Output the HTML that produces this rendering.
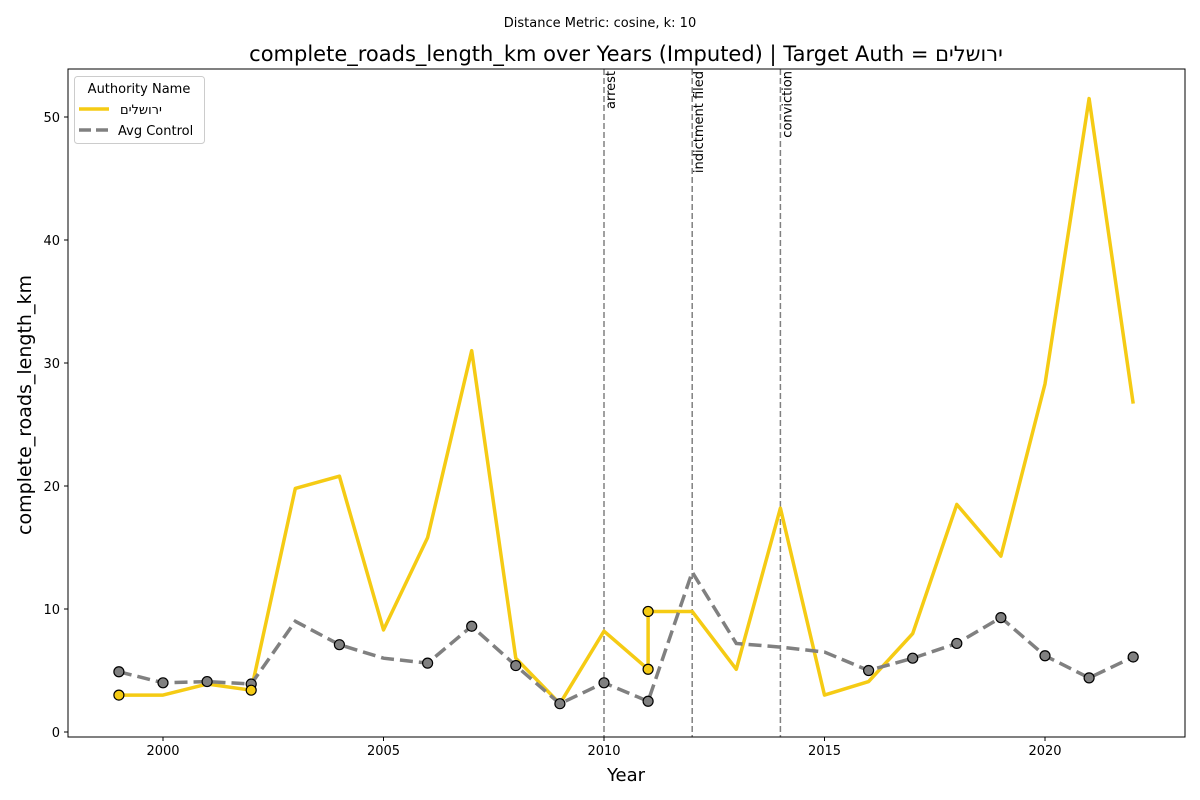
<!DOCTYPE html>
<html><head><meta charset="utf-8"><style>
body{margin:0;background:#fff;}
svg{display:block;font-family:"DejaVu Sans","Liberation Sans",sans-serif;}
</style></head><body>
<svg id="chart" width="1200" height="800">
<text x="600" y="27" font-size="13" text-anchor="middle">Distance Metric: cosine, k: 10</text>
<text x="626" y="61" font-size="21" text-anchor="middle">complete_roads_length_km over Years (Imputed) | Target Auth = &#x202D;םילשורי&#x202C;</text>
<text x="626" y="781" font-size="18" text-anchor="middle">Year</text>
<text transform="translate(31,405) rotate(-90)" font-size="19" text-anchor="middle">complete_roads_length_km</text>
<g id="axes"></g>
<g id="marks"></g>
<rect x="68" y="69" width="1117" height="668" fill="none" stroke="#000" stroke-width="1"/>
<g>
<rect x="74.5" y="76.5" width="130" height="67" rx="3" fill="#fff" stroke="#ccc"/>
<text x="139" y="93" font-size="13" text-anchor="middle">Authority Name</text>
<line x1="79" y1="109" x2="109" y2="109" stroke="#f5cb14" stroke-width="3.5"/>
<text x="120" y="114" font-size="13">&#x202D;םילשורי&#x202C;</text>
<line x1="79" y1="130" x2="109" y2="130" stroke="#808080" stroke-width="3.5" stroke-dasharray="12,5"/>
<text x="118" y="135" font-size="13">Avg Control</text>
</g>
</svg>
<script>
const targetYears=[1999,2000,2001,2002,2003,2004,2005,2006,2007,2008,2009,2010,2011,2011,2012,2013,2014,2015,2016,2017,2018,2019,2020,2021,2022];
const targetValues=[3.0,3.0,3.9,3.4,19.8,20.8,8.3,15.8,31.0,6.0,2.3,8.2,5.1,9.8,9.8,5.1,18.2,3.0,4.1,8.0,18.5,14.3,28.3,51.5,26.7];
const targetMarkerYears=[1999,2002,2011,2011];
const targetMarkerValues=[3.0,3.4,5.1,9.8];
const controlYears=[1999,2000,2001,2002,2003,2004,2005,2006,2007,2008,2009,2010,2011,2012,2013,2014,2015,2016,2017,2018,2019,2020,2021,2022];
const controlValues=[4.9,4.0,4.1,3.9,9.0,7.1,6.0,5.6,8.6,5.4,2.3,4.0,2.5,13.0,7.2,6.9,6.5,5.0,6.0,7.2,9.3,6.2,4.4,6.1];
const controlMarkerYears=[1999,2000,2001,2002,2004,2006,2007,2008,2009,2010,2011,2016,2017,2018,2019,2020,2021,2022];
const controlMarkerValues=[4.9,4.0,4.1,3.9,7.1,5.6,8.6,5.4,2.3,4.0,2.5,5.0,6.0,7.2,9.3,6.2,4.4,6.1];
const eventYears=[2010,2012,2014];
const eventLabels=["arrest","indictment filed","conviction"];
const xTicks=[2000,2005,2010,2015,2020];
const yTicks=[0,10,20,30,40,50];
const NS="http://www.w3.org/2000/svg";
function X(v){return 163+(v-2000)*44.1;}
function Y(v){return 732-v*12.3;}
function mk(tag,attrs,parent){const e=document.createElementNS(NS,tag);for(const k in attrs)e.setAttribute(k,attrs[k]);parent.appendChild(e);return e;}
const axes=document.getElementById('axes'),marks=document.getElementById('marks');
xTicks.forEach(t=>{
 const l=mk('line',{x1:X(t),x2:X(t),y1:737,y2:741,stroke:'#000'},axes);
 
 
 const tx=mk('text',{x:X(t),y:755,'font-size':13,'text-anchor':'middle'},axes);tx.textContent=t;
 
 
});
yTicks.forEach(t=>{
 const l=mk('line',{x1:64,x2:68,y1:Y(t),y2:Y(t),stroke:'#000'},axes);
 
 
 const tx=mk('text',{x:60,y:Y(t)+5,'font-size':13,'text-anchor':'end'},axes);tx.textContent=t;
 
 
});
eventYears.forEach((y,i)=>{
 const l=mk('line',{x1:X(y),x2:X(y),y1:69,y2:737,stroke:'#808080','stroke-width':1.5,'stroke-dasharray':'6,3'},marks);
 
 
 const t=mk('text',{transform:`translate(${X(y)+11},71) rotate(-90)`,'font-size':13,'text-anchor':'end'},marks);
 t.textContent=eventLabels[i];
 
 
});
const tp=mk('polyline',{points:targetYears.map((y,i)=>X(y)+','+Y(targetValues[i])).join(' '),fill:'none',stroke:'#f5cb14','stroke-width':3.5,'stroke-linejoin':'round'},marks);


const cp=mk('polyline',{points:controlYears.map((y,i)=>X(y)+','+Y(controlValues[i])).join(' '),fill:'none',stroke:'#808080','stroke-width':3.5,'stroke-dasharray':'13,6'},marks);


controlMarkerYears.forEach((y,i)=>{
 const c=mk('circle',{cx:X(y),cy:Y(controlMarkerValues[i]),r:5,fill:'#808080',stroke:'#000','stroke-width':1.2},marks);
 
 
});
targetMarkerYears.forEach((y,i)=>{
 const c=mk('circle',{cx:X(y),cy:Y(targetMarkerValues[i]),r:5,fill:'#f5cb14',stroke:'#000','stroke-width':1.2},marks);
 
 
});
</script>
</body></html>
